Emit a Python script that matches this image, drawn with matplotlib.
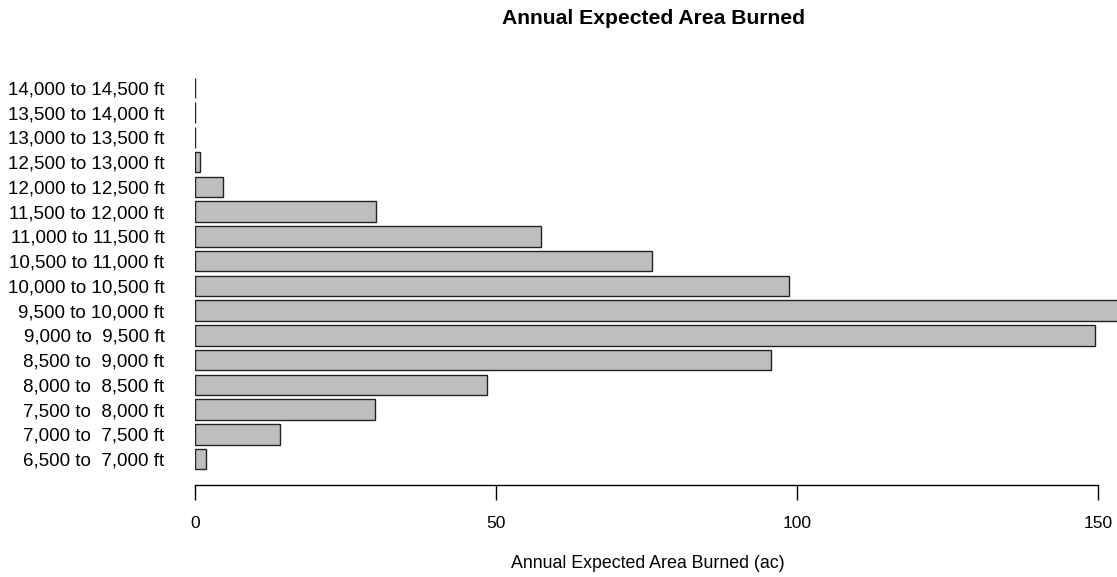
import matplotlib
matplotlib.use('Agg')
import matplotlib.pyplot as plt
import numpy as np

plt.rcParams['font.family'] = ['Liberation Sans', 'DejaVu Sans']

# elevation bands, bottom to top
bands = [
    "6,500 to  7,000 ft", "7,000 to  7,500 ft", "7,500 to  8,000 ft",
    "8,000 to  8,500 ft", "8,500 to  9,000 ft", "9,000 to  9,500 ft",
    "9,500 to 10,000 ft", "10,000 to 10,500 ft", "10,500 to 11,000 ft",
    "11,000 to 11,500 ft", "11,500 to 12,000 ft", "12,000 to 12,500 ft",
    "12,500 to 13,000 ft", "13,000 to 13,500 ft", "13,500 to 14,000 ft",
    "14,000 to 14,500 ft",
]
area_burned = [1.8, 14.1, 29.9, 48.5, 95.7, 149.5, 160.0, 98.7, 75.9,
               57.5, 30.1, 4.6, 0.8, 0.08, 0.05, 0.05]
x_ticks = [0, 50, 100, 150]

fig = plt.figure(figsize=(11.17, 5.77), dpi=100)
ax = fig.add_axes([195 / 1117, 1 - 485 / 577, 1 - 195 / 1117, (485 - 62) / 577])

# barplot style: width 1, space 0.2
ypos = 0.7 + 1.2 * np.arange(len(bands))
ax.barh(ypos, area_burned, height=1.0, color='#BEBEBE', edgecolor='#222222',
        linewidth=1.0)

ax.set_xlim(0, (1117 - 195) / 6.02)
ax.set_ylim(-0.56, 19.96)

for s in ['left', 'right', 'top']:
    ax.spines[s].set_visible(False)
ax.spines['bottom'].set_bounds(0, 150)
ax.spines['bottom'].set_linewidth(1.0)

ax.set_xticks(x_ticks)
ax.set_xticklabels([str(t) for t in x_ticks], fontsize=12.5)
ax.tick_params(axis='x', length=11, width=1.0, pad=11)
ax.set_yticks(ypos)
ax.set_yticklabels(bands, fontsize=13.5)
ax.tick_params(axis='y', length=0, pad=22)

fig.text(648 / 1117, 1 - 563 / 577, 'Annual Expected Area Burned (ac)',
         fontsize=12.8, ha='center', va='center')
fig.text(653 / 1117, 1 - 18 / 577, 'Annual Expected Area Burned',
         fontsize=15.2, fontweight='bold', ha='center', va='center')

fig.savefig('out.png', dpi=100, facecolor='white')
plt.close(fig)
